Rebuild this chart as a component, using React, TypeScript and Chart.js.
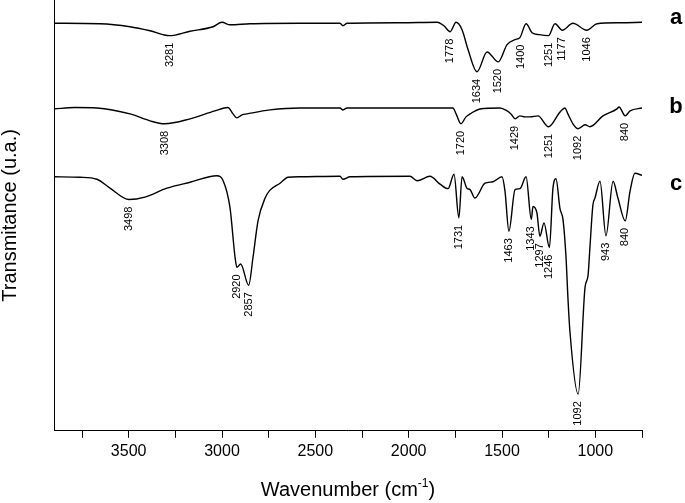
import { useEffect, useRef } from "react";
import { Chart, registerables } from "chart.js";

Chart.register(...registerables);

// ---- Data (wavenumber in cm-1, transmittance in arbitrary units) ----
const WN_A = [3900, 3654, 3493, 3386, 3281, 3171, 3048, 3000, 2957, 2850, 2582, 2368, 2352, 2330, 2046, 1848, 1811, 1778, 1746, 1714, 1682, 1634, 1580, 1520, 1473, 1430, 1404, 1371, 1339, 1300, 1251, 1216, 1177, 1120, 1046, 991, 868, 750];
const T_A = [82.3, 82.2, 81.6, 80.8, 79.8, 80.7, 81.6, 82.5, 82.0, 82.2, 82.3, 82.3, 81.8, 82.3, 82.4, 82.5, 81.8, 80.6, 82.5, 81.0, 77.0, 72.5, 76.5, 74.5, 78.0, 79.0, 79.4, 82.2, 80.4, 80.0, 79.8, 82.2, 80.9, 82.3, 80.9, 82.2, 82.4, 82.5];

const WN_B = [3900, 3788, 3670, 3493, 3386, 3308, 3171, 3038, 2968, 2941, 2920, 2893, 2866, 2743, 2582, 2368, 2352, 2330, 2046, 1763, 1746, 1720, 1693, 1671, 1618, 1511, 1473, 1452, 1429, 1404, 1377, 1350, 1307, 1251, 1189, 1163, 1147, 1120, 1092, 1055, 1029, 959, 884, 873, 840, 814, 750];
const T_B = [65.0, 65.3, 65.2, 64.0, 62.6, 62.0, 63.0, 64.6, 65.3, 64.0, 63.2, 63.8, 64.0, 64.8, 65.2, 65.2, 64.8, 65.2, 65.2, 65.2, 64.0, 62.0, 63.4, 64.0, 65.0, 65.2, 64.6, 64.0, 63.0, 63.6, 63.4, 63.4, 63.6, 61.4, 64.4, 65.2, 64.0, 62.0, 61.0, 61.8, 61.4, 63.6, 65.0, 65.4, 63.6, 64.6, 65.2];

const WN_C = [3900, 3761, 3670, 3600, 3498, 3413, 3295, 3171, 3027, 2995, 2957, 2930, 2920, 2900, 2857, 2834, 2807, 2769, 2743, 2689, 2646, 2582, 2368, 2352, 2314, 1993, 1955, 1886, 1832, 1789, 1757, 1731, 1714, 1688, 1671, 1645, 1591, 1548, 1500, 1484, 1463, 1430, 1404, 1371, 1343, 1334, 1313, 1297, 1275, 1246, 1227, 1211, 1189, 1173, 1157, 1147, 1136, 1092, 1055, 1039, 1029, 1013, 1002, 975, 943, 905, 879, 840, 814, 788, 750];
const T_C = [51.3, 51.2, 50.8, 49.0, 46.7, 47.2, 49.0, 50.2, 51.5, 50.6, 45.0, 35.0, 33.0, 33.7, 29.4, 35.0, 42.4, 47.0, 48.6, 50.0, 51.2, 51.3, 51.4, 50.8, 51.3, 51.4, 50.5, 51.4, 49.8, 48.9, 51.8, 43.0, 51.3, 49.0, 48.7, 47.0, 50.0, 50.3, 51.3, 48.4, 40.3, 48.7, 48.9, 51.3, 42.7, 45.3, 44.0, 39.3, 42.0, 37.0, 49.0, 50.9, 44.8, 42.6, 35.0, 27.0, 20.0, 7.4, 29.0, 31.4, 37.0, 45.6, 47.0, 50.4, 39.4, 50.4, 47.0, 42.4, 48.4, 52.0, 51.6];

const PEAKS_A = [3281, 1778, 1634, 1520, 1400, 1251, 1177, 1046];
const PEAKS_B = [3308, 1720, 1429, 1251, 1092, 840];
const PEAKS_C = [3498, 2920, 2857, 1731, 1463, 1343, 1297, 1246, 1092, 943, 840];

const SERIES_NAMES = ["a", "b", "c"];
const X_MIN = 750;
const X_MAX = 3900;
const Y_MIN = 0;
const Y_MAX = 87;

const X_TITLE = "Wavenumber (cm";
const X_TITLE_SUP = "-1";
const Y_TITLE = "Transmitance (u.a.)";

const FONT = "'Liberation Sans', Arial, Helvetica, sans-serif";

const SERIES = [
  { wn: WN_A, t: T_A, peaks: PEAKS_A },
  { wn: WN_B, t: T_B, peaks: PEAKS_B },
  { wn: WN_C, t: T_C, peaks: PEAKS_C },
];

const NAME_OFFSETS = [-4, -1, 9];

const annotPlugin = {
  id: "annot",
  afterDatasetsDraw(chart: any) {
    const ctx = chart.ctx;
    const xs = chart.scales.x;
    const ys = chart.scales.y;
    const area = chart.chartArea;
    ctx.save();
    // left axis line
    ctx.strokeStyle = "#000";
    ctx.lineWidth = 1;
    ctx.beginPath();
    ctx.moveTo(Math.round(area.left) + 0.5, area.top);
    ctx.lineTo(Math.round(area.left) + 0.5, area.bottom);
    ctx.stroke();

    // peak labels
    ctx.fillStyle = "#000";
    ctx.font = `11px ${FONT}`;
    SERIES.forEach((s) => {
      s.peaks.forEach((p) => {
        let minT = Infinity;
        s.wn.forEach((w, j) => {
          if (Math.abs(w - p) <= 15) minT = Math.min(minT, s.t[j]);
        });
        if (!isFinite(minT)) minT = s.t[0];
        const px = xs.getPixelForValue(p);
        const py = ys.getPixelForValue(minT) + 7;
        ctx.save();
        ctx.translate(px, py);
        ctx.rotate(-Math.PI / 2);
        ctx.textAlign = "right";
        ctx.textBaseline = "middle";
        ctx.fillText(String(p), 0, 0);
        ctx.restore();
      });
    });

    // series names
    ctx.font = `bold 22px ${FONT}`;
    ctx.textAlign = "center";
    ctx.textBaseline = "middle";
    SERIES.forEach((s, i) => {
      const last = s.t[s.t.length - 1];
      const py = ys.getPixelForValue(last) + NAME_OFFSETS[i];
      ctx.fillText(SERIES_NAMES[i], area.right + 34, py);
    });

    // x title with superscript
    ctx.font = `20px ${FONT}`;
    const mainW = ctx.measureText(X_TITLE).width;
    ctx.font = `12px ${FONT}`;
    const supW = ctx.measureText(X_TITLE_SUP).width;
    ctx.font = `20px ${FONT}`;
    const closeW = ctx.measureText(")").width;
    const total = mainW + supW + closeW;
    const cx = (area.left + area.right) / 2;
    let x0 = cx - total / 2;
    const baseY = 496;
    ctx.textAlign = "left";
    ctx.textBaseline = "alphabetic";
    ctx.fillText(X_TITLE, x0, baseY);
    ctx.font = `12px ${FONT}`;
    ctx.fillText(X_TITLE_SUP, x0 + mainW, baseY - 9);
    ctx.font = `20px ${FONT}`;
    ctx.fillText(")", x0 + mainW + supW, baseY);

    // y title
    ctx.save();
    ctx.translate(10, (area.top + area.bottom) / 2);
    ctx.rotate(-Math.PI / 2);
    ctx.textAlign = "center";
    ctx.textBaseline = "middle";
    ctx.font = `20px ${FONT}`;
    ctx.fillText(Y_TITLE, 0, 0);
    ctx.restore();

    ctx.restore();
  },
};

export default function App() {
  const ref = useRef<HTMLCanvasElement>(null);
  useEffect(() => {
    const datasets = SERIES.map((s, i) => ({
      label: SERIES_NAMES[i],
      data: s.wn.map((w, j) => ({ x: w, y: s.t[j] })),
      borderColor: "#000",
      borderWidth: 1.4,
      pointRadius: 0,
      fill: false,
      cubicInterpolationMode: "monotone" as const,
    }));
    const chart = new Chart(ref.current as HTMLCanvasElement, {
      type: "line",
      data: { datasets },
      options: {
        responsive: false,
        animation: false,
        devicePixelRatio: 1,
        layout: { padding: { left: 54, right: 43, top: 0, bottom: 38 } },
        plugins: { legend: { display: false }, tooltip: { enabled: false } },
        scales: {
          x: {
            type: "linear",
            reverse: true,
            min: X_MIN,
            max: X_MAX,
            ticks: {
              stepSize: 250,
              includeBounds: false,
              autoSkip: false,
              maxRotation: 0,
              color: "#000",
              padding: 4,
              font: { family: FONT, size: 16 },
              callback: (v: any) => (Number(v) % 500 === 0 ? String(v) : ""),
            },
            grid: { drawOnChartArea: false, drawTicks: true, tickLength: 7, color: "#000", lineWidth: 1 },
            border: { display: true, color: "#000", width: 1 },
          },
          y: { type: "linear", display: false, min: Y_MIN, max: Y_MAX },
        },
      },
      plugins: [annotPlugin],
    });
    return () => chart.destroy();
  }, []);
  return (
    <div style={{ position: "fixed", left: 0, top: 0, width: 685, height: 503, background: "#fff" }}>
      <canvas ref={ref} width={685} height={503} style={{ display: "block" }} />
    </div>
  );
}
